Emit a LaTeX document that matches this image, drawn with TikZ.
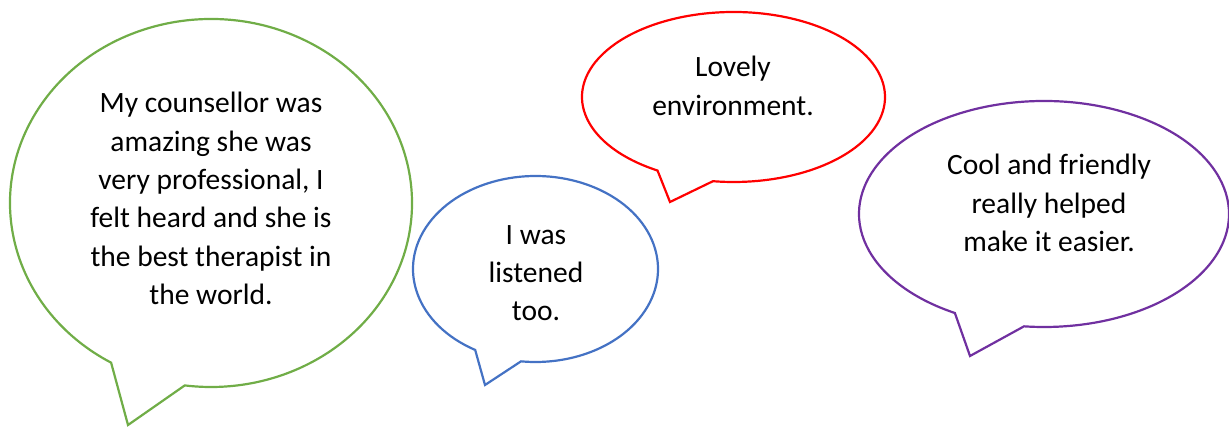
\documentclass[tikz,border=0pt]{standalone}
\usepackage{fontspec}
\setmainfont{Carlito}
\usetikzlibrary{calc}
\definecolor{sayGreen}{RGB}{112,173,71}
\definecolor{sayBlue}{RGB}{68,114,196}
\definecolor{sayRed}{RGB}{255,0,0}
\definecolor{sayPurple}{RGB}{112,48,160}
\tikzstyle{bubble}=[draw,line width=2.2pt,line join=miter]
\tikzstyle{saying}=[align=center,inner sep=0pt,font=\fontsize{29.5}{38.3}\selectfont]

\begin{document}
\begin{tikzpicture}[x=1pt,y=-1pt]
    \useasboundingbox (0,0) rectangle (1229,427);

    % centre / radii / tail angles / tip / colour
    \foreach \name/\cx/\cy/\rx/\ry/\ta/\tb/\px/\py/\col in {green/211/203/201/184/119.8/97.5/128/425/sayGreen, blue/535.5/269/122.5/93/119.5/96.8/485/385/sayBlue, red/733.5/97/151.5/85/120.1/97.8/670/202/sayRed, purple/1044/214/185/113/118.8/96.2/970/356/sayPurple}
    {
        \coordinate (\name) at (\cx,\cy);
        \coordinate (\name tip) at (\px,\py);
        \path[bubble,draw=\col] ($(\name)+({\rx*cos(\ta)},{\ry*sin(\ta)})$)
            arc[start angle=\ta,end angle=\tb+360,x radius=\rx,y radius=\ry]
            -- (\name tip) -- cycle;
    }

    \node[saying] (counsellor) at (211,198.5) {My counsellor was\\amazing she was\\very professional, I\\felt heard and she is\\the best therapist in\\the world.};
    \node[saying] (listened) at (536,273) {I was\\listened\\too.};
    \node[saying] (lovely) at (733,86) {Lovely\\environment.};
    \node[saying] (friendly) at (1049,203) {Cool and friendly\\really helped\\make it easier.};
\end{tikzpicture}
\end{document}
